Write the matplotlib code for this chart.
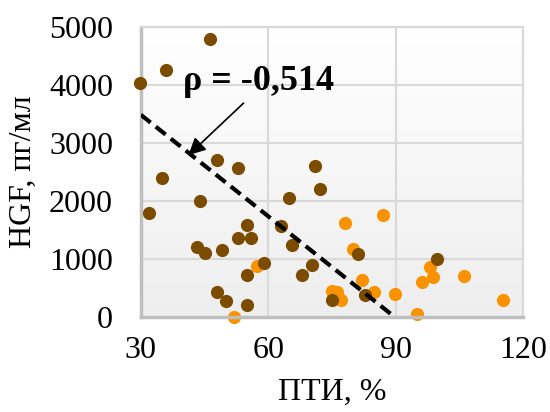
import numpy as np
import matplotlib.pyplot as plt

plt.rcParams['font.family'] = ['Liberation Serif', 'DejaVu Serif']

# group 1 (brown)
pti_a = [29.9, 35.9, 46.4, 34.9, 32.0, 43.9, 47.9, 53.0, 65.0, 71.1, 72.1,
         43.3, 45.0, 49.1, 55.0, 53.0, 56.0, 63.0, 65.6, 68.0, 70.3, 59.1,
         55.0, 47.9, 50.0, 55.0, 75.1, 81.1, 82.7, 99.8]
hgf_a = [4034, 4264, 4798, 2397, 1793, 1993, 2700, 2569, 2052, 2597, 2212,
         1207, 1103, 1160, 1591, 1362, 1362, 1574, 1234, 729, 890, 931,
         729, 424, 269, 207, 298, 1091, 379, 1000]

# group 2 (orange)
pti_b = [78.0, 87.1, 80.0, 98.1, 98.8, 96.1, 106.2, 115.2, 95.1, 89.9,
         85.0, 82.1, 75.1, 76.1, 77.2, 57.3, 51.9]
hgf_b = [1620, 1752, 1178, 855, 690, 603, 712, 286, 57, 401,
         424, 643, 441, 424, 298, 872, 0]

# linear trend HGF = b0 + b1 * PTI
trend_b0 = 5240
trend_b1 = -58.4
rho_text = 'ρ = -0,514'

fig = plt.figure(figsize=(5.5, 4.12), dpi=100)
ax = fig.add_axes([0.256, 0.231, 0.695, 0.703])

ax.set_xlim(30, 120)
ax.set_ylim(0, 5000)

# soft vertical gradient in the plot area
grad = np.linspace(0, 1, 256).reshape(-1, 1)
ax.imshow(grad, extent=[30, 120, 0, 5000], aspect='auto', origin='upper',
          cmap=plt.matplotlib.colors.LinearSegmentedColormap.from_list(
              'bg', ['#ffffff', '#eeeeee']), zorder=0)

ax.grid(True, color='#d9d9d9', linewidth=1.5, zorder=1)
ax.set_axisbelow(True)
for side in ['top', 'right']:
    ax.spines[side].set_color('#d9d9d9')
    ax.spines[side].set_linewidth(1.5)
for side in ['left', 'bottom']:
    ax.spines[side].set_color('#bfbfbf')
    ax.spines[side].set_linewidth(2.5)

ax.scatter(pti_a, hgf_a, s=90, color='#7b4b00', linewidths=0, zorder=3,
           clip_on=False)
ax.scatter(pti_b, hgf_b, s=90, color='#f99200', linewidths=0, zorder=2,
           clip_on=False)

x_end = -trend_b0 / trend_b1
xs = np.array([30, x_end])
ax.plot(xs, trend_b0 + trend_b1 * xs, color='black', linestyle=(0, (3, 1.6)),
        linewidth=3, zorder=4)

ax.text(57.6, 4060, rho_text, fontsize=26, fontweight='bold',
        ha='center', va='center', zorder=5)
ax.annotate('', xy=(41.2, 2790), xytext=(54.2, 3690),
            arrowprops=dict(arrowstyle='-|>', color='black', lw=1.2,
                            mutation_scale=26, shrinkA=0, shrinkB=0),
            zorder=5)

ax.set_xticks([30, 60, 90, 120])
ax.set_yticks([0, 1000, 2000, 3000, 4000, 5000])
ax.tick_params(length=0, labelsize=23, pad=14)
ax.tick_params(axis='y', pad=20)
ax.set_xlabel('ПТИ, %', fontsize=23, labelpad=9)
ax.set_ylabel('HGF, пг/мл', fontsize=23, labelpad=8)

fig.savefig('out.png', dpi=100)
